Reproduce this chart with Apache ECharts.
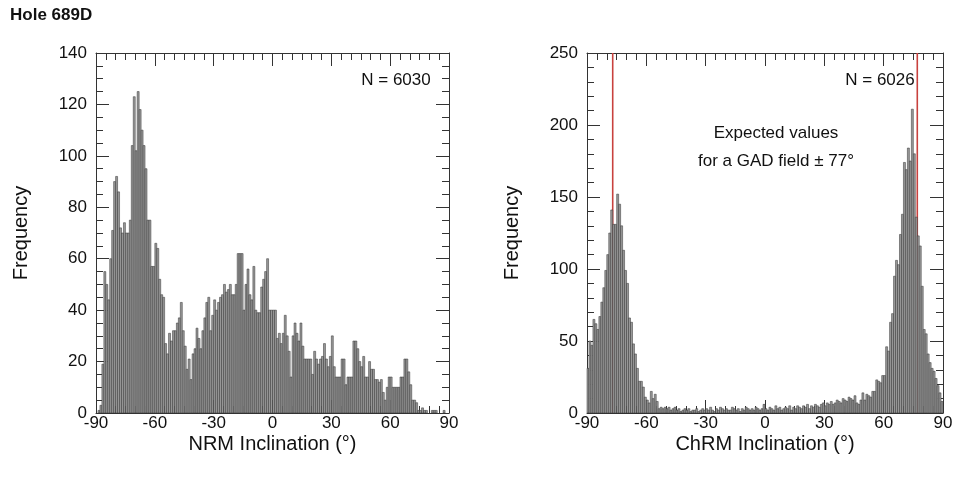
<!DOCTYPE html>
<html><head><meta charset="utf-8">
<script src="https://cdn.jsdelivr.net/npm/echarts@6/dist/echarts.min.js"></script>
<style>html,body{margin:0;padding:0;background:#fff}#c{width:957px;height:481px}</style>
</head><body><div id="c"></div>
<script>
// ---- data ----
const binStart = Array.from({length: 180}, (_, i) => -90 + i); // 1° bins, left edges
const xTicks = [-90, -60, -30, 0, 30, 60, 90];
const nrmTicksY = [0, 20, 40, 60, 80, 100, 120, 140];
const chrmTicksY = [0, 50, 100, 150, 200, 250];
const gadInclination = [-77, 77];
const nrmN = 6030, chrmN = 6026;

const nrmCounts = [
  0, 1, 3, 19, 55, 50, 44, 60, 71, 90,
  92, 86, 72, 70, 74, 70, 70, 75, 104, 123,
  102, 125, 118, 110, 104, 95, 75, 75, 57, 57,
  66, 64, 52, 46, 45, 27, 23, 31, 28, 32,
  32, 35, 37, 43, 32, 26, 17, 21, 13, 23,
  25, 33, 29, 25, 32, 37, 43, 45, 32, 38,
  44, 40, 43, 45, 46, 50, 47, 48, 50, 46,
  46, 50, 62, 62, 62, 40, 50, 56, 46, 44,
  57, 40, 39, 39, 49, 52, 55, 60, 40, 40,
  40, 40, 29, 31, 27, 31, 38, 30, 24, 14,
  30, 35, 31, 28, 35, 26, 21, 21, 21, 21,
  15, 24, 21, 19, 21, 22, 27, 21, 18, 22,
  30, 18, 14, 14, 14, 21, 21, 11, 14, 14,
  14, 28, 28, 25, 20, 18, 22, 14, 14, 20,
  17, 17, 13, 13, 12, 13, 8, 5, 10, 14,
  14, 10, 10, 10, 10, 14, 14, 21, 21, 16,
  11, 5, 5, 4, 1, 1, 2, 1, 1, 0,
  0, 1, 1, 1, 0, 0, 0, 1, 0, 0
];

const chrmCounts = [
  31, 50, 47, 65, 62, 58, 67, 77, 87, 99,
  110, 125, 141, 131, 131, 152, 145, 130, 113, 99,
  90, 66, 63, 48, 41, 31, 22, 22, 18, 11,
  9, 7, 15, 10, 13, 8, 3, 4, 3, 4,
  3, 4, 2, 3, 4, 2, 3, 1, 2, 3,
  2, 3, 1, 2, 2, 3, 1, 2, 3, 2,
  3, 2, 4, 2, 1, 3, 2, 4, 3, 2,
  3, 2, 2, 4, 3, 2, 3, 1, 3, 2,
  4, 3, 2, 3, 2, 4, 3, 2, 3, 6,
  3, 2, 4, 3, 2, 5, 3, 4, 2, 3,
  4, 3, 5, 2, 4, 3, 5, 4, 3, 5,
  4, 6, 3, 5, 4, 6, 5, 4, 6, 7,
  5, 7, 6, 8, 6, 7, 9, 8, 7, 10,
  9, 8, 11, 10, 9, 12, 7, 6, 9, 14,
  9, 13, 12, 11, 15, 15, 23, 22, 21, 26,
  26, 46, 43, 63, 69, 95, 106, 103, 124, 138,
  174, 169, 184, 175, 211, 180, 136, 123, 116, 88,
  58, 55, 41, 35, 31, 29, 24, 19, 14, 8
];

// ---- chart ----
const FONT = '"Liberation Sans", Arial, Helvetica, sans-serif';
const chart = echarts.init(document.getElementById('c'), null, {renderer: 'canvas'});

function renderBar(params, api) {
  const x0 = api.value(0), v = api.value(1);
  if (!v) return null;
  const p0 = api.coord([x0, 0]);
  const p1 = api.coord([x0 + 1, v]);
  return {
    type: 'rect',
    shape: {x: p0[0], y: p1[1], width: p1[0] - p0[0], height: p0[1] - p1[1]},
    style: {fill: '#9a9a9a', stroke: '#303030', lineWidth: 0.5}
  };
}

function xAx(gridIndex, pos, name) {
  return {
    type: 'value', gridIndex, position: pos, min: xTicks[0], max: xTicks[xTicks.length - 1], interval: 30,
    name: pos === 'bottom' ? name : '', nameLocation: 'middle', nameGap: 31, nameMoveOverlap: false,
    nameTextStyle: {fontFamily: FONT, fontSize: 20, color: '#111', verticalAlign: 'middle'},
    axisLine: {show: true, onZero: false, lineStyle: {color: '#333', width: 1}},
    axisTick: {show: true, inside: true, length: 13, lineStyle: {color: '#333'}},
    minorTick: {show: true, splitNumber: 6, length: 7, lineStyle: {color: '#333'}},
    axisLabel: {show: pos === 'bottom', fontFamily: FONT, fontSize: 17, color: '#111', margin: 2},
    splitLine: {show: false}
  };
}
function yAx(gridIndex, pos, max, interval, minorSplit) {
  return {
    type: 'value', gridIndex, position: pos, min: 0, max, interval,
    name: pos === 'left' ? 'Frequency' : '', nameLocation: 'middle', nameGap: 65,
    nameTextStyle: {fontFamily: FONT, fontSize: 20, color: '#111'},
    axisLine: {show: true, onZero: false, lineStyle: {color: '#333', width: 1}},
    axisTick: {show: true, inside: true, length: 13, lineStyle: {color: '#333'}},
    minorTick: {show: true, splitNumber: minorSplit, length: 7, lineStyle: {color: '#333'}},
    axisLabel: {show: pos === 'left', fontFamily: FONT, fontSize: 17, color: '#111', margin: 9},
    splitLine: {show: false}
  };
}

const option = {
  backgroundColor: '#fff',
  animation: false,
  grid: [
    {left: 96, top: 53, width: 353, height: 360},
    {left: 587, top: 53, width: 356, height: 360}
  ],
  xAxis: [
    xAx(0, 'bottom', 'NRM Inclination (°)'),
    xAx(0, 'top', ''),
    xAx(1, 'bottom', 'ChRM Inclination (°)'),
    xAx(1, 'top', '')
  ],
  yAxis: [
    yAx(0, 'left', nrmTicksY[nrmTicksY.length - 1], 20, 4),
    yAx(0, 'right', nrmTicksY[nrmTicksY.length - 1], 20, 4),
    yAx(1, 'left', chrmTicksY[chrmTicksY.length - 1], 50, 5),
    yAx(1, 'right', chrmTicksY[chrmTicksY.length - 1], 50, 5)
  ],
  series: [
    {
      type: 'custom', xAxisIndex: 0, yAxisIndex: 0, z: 3,
      renderItem: renderBar, encode: {x: 0, y: 1},
      data: binStart.map((b, i) => [b, nrmCounts[i]])
    },
    {
      type: 'custom', xAxisIndex: 2, yAxisIndex: 2, z: 3,
      renderItem: renderBar, encode: {x: 0, y: 1},
      data: binStart.map((b, i) => [b, chrmCounts[i]])
    },
  ].concat(gadInclination.map(g => ({
    type: 'line', xAxisIndex: 2, yAxisIndex: 2, z: 1, showSymbol: false, silent: true,
    lineStyle: {color: '#c8413e', width: 1.6},
    data: [[g, 0], [g, chrmTicksY[chrmTicksY.length - 1]]]
  }))),
  graphic: [
    {type: 'text', left: 10, top: 7, style: {text: 'Hole 689D', font: 'bold 17px ' + FONT, fill: '#111'}},
    {type: 'text', x: 396, y: 80, style: {text: 'N = ' + nrmN, font: '17px ' + FONT, fill: '#111', textAlign: 'center', textVerticalAlign: 'middle'}},
    {type: 'text', x: 880, y: 80, style: {text: 'N = ' + chrmN, font: '17px ' + FONT, fill: '#111', textAlign: 'center', textVerticalAlign: 'middle'}},
    {type: 'text', x: 776, y: 133, style: {text: 'Expected values', font: '17px ' + FONT, fill: '#111', textAlign: 'center', textVerticalAlign: 'middle'}},
    {type: 'text', x: 776, y: 161, style: {text: 'for a GAD field ± ' + gadInclination[1] + '°', font: '17px ' + FONT, fill: '#111', textAlign: 'center', textVerticalAlign: 'middle'}}
  ]
};
chart.setOption(option);
</script>
</body></html>
